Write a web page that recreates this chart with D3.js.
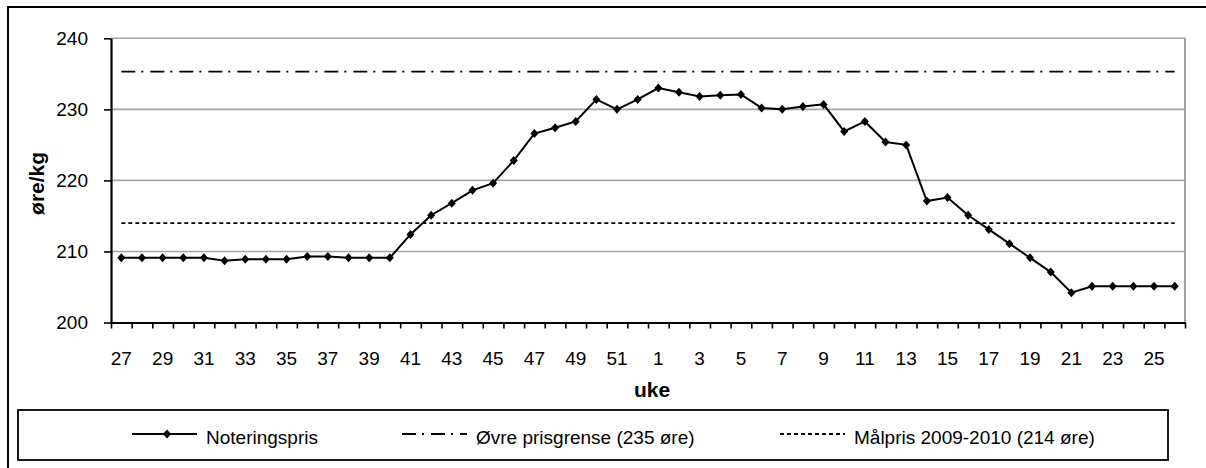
<!DOCTYPE html>
<html><head><meta charset="utf-8">
<script src="https://cdn.jsdelivr.net/npm/d3@7"></script>
<style>
body{margin:0;background:#fff}
svg{display:block}
text{font-family:"Liberation Sans",Arial,sans-serif;fill:#000}
</style>
</head><body>
<svg id="c" width="1206" height="468"></svg>
<script>
// ---- data ----
const weeks = [27,28,29,30,31,32,33,34,35,36,37,38,39,40,41,42,43,44,45,46,47,48,49,50,51,52,
               1,2,3,4,5,6,7,8,9,10,11,12,13,14,15,16,17,18,19,20,21,22,23,24,25,26];
const noteringspris = [209.1,209.1,209.1,209.1,209.1,208.7,208.9,208.9,208.9,209.3,209.3,209.1,209.1,209.1,
  212.4,215.1,216.8,218.6,219.6,222.8,226.6,227.4,228.3,231.4,230.0,231.4,
  233.0,232.4,231.8,232.0,232.1,230.2,230.0,230.4,230.7,226.9,228.3,225.4,225.0,
  217.1,217.6,215.1,213.1,211.1,209.1,207.1,204.2,205.1,205.1,205.1,205.1,205.1];
const ovrePrisgrense = weeks.map(() => 235.3);
const malpris = weeks.map(() => 214.0);
const yTicks = [200,210,220,230,240];
const xTickLabels = weeks.filter((w,i) => i % 2 === 0);
const seriesNames = ["Noteringspris", "Øvre prisgrense (235 øre)", "Målpris 2009-2010 (214 øre)"];
const yTitle = "øre/kg";
const xTitle = "uke";

// ---- layout ----
const W = 1206, H = 468;
const plot = {left:111, right:1185, top:38.3, bottom:322.5};
const FS = 19, FST = 21;

const svg = d3.select("#c");

// outer frame
svg.append("rect").attr("x",8).attr("y",7).attr("width",W).attr("height",H)
  .attr("fill","none").attr("stroke","#000").attr("stroke-width",2);

const x = d3.scaleBand().domain(weeks.map(String)).range([plot.left, plot.right]).padding(0);
const xb = d3.scaleLinear().domain([0, weeks.length]).range([plot.left, plot.right]);
const y = d3.scaleLinear().domain([200,240]).range([plot.bottom, plot.top]);

// gridlines
svg.append("g").selectAll("line").data(yTicks.slice(1)).join("line")
  .attr("x1",plot.left).attr("x2",plot.right)
  .attr("y1",d=>y(d)).attr("y2",d=>y(d))
  .attr("stroke","#a6a6a6").attr("stroke-width",1.6);
// right border
svg.append("line").attr("x1",plot.right).attr("x2",plot.right)
  .attr("y1",plot.top).attr("y2",plot.bottom)
  .attr("stroke","#8c8c8c").attr("stroke-width",1.6);

// y axis
const ya = svg.append("g").attr("transform",`translate(${plot.left},0)`)
  .call(d3.axisLeft(y).tickValues(yTicks).tickSizeInner(7).tickSizeOuter(0).tickPadding(16));
ya.select(".domain").attr("stroke-width",2.2);
ya.selectAll(".tick line").attr("stroke-width",1.6);
ya.selectAll("text").attr("font-size",FS).attr("font-family",null);

// x axis: tick marks at category boundaries
const xt = svg.append("g").attr("transform",`translate(0,${plot.bottom})`)
  .call(d3.axisBottom(xb).tickValues(d3.range(0, weeks.length+1)).tickSizeInner(6).tickSizeOuter(0).tickFormat(""));
xt.select(".domain").attr("stroke-width",2.2);
xt.selectAll(".tick line").attr("stroke-width",1.6);
// x labels
const xl = svg.append("g").attr("transform",`translate(0,${plot.bottom})`)
  .call(d3.axisBottom(x).tickValues(xTickLabels.map(String)).tickSize(0).tickPadding(29));
xl.select(".domain").remove();
xl.selectAll("text").attr("font-size",FS).attr("font-family",null);

// reference lines
const line = d3.line().x((d,i)=>x(String(weeks[i])) + x.bandwidth()/2).y(d=>y(d));
svg.append("path").datum(ovrePrisgrense).attr("d",line)
  .attr("fill","none").attr("stroke","#000").attr("stroke-width",1.8)
  .attr("stroke-dasharray","14,6,2,7");
svg.append("path").datum(malpris).attr("d",line)
  .attr("fill","none").attr("stroke","#000").attr("stroke-width",1.8)
  .attr("stroke-dasharray","4,3");

// main series
svg.append("path").datum(noteringspris).attr("d",line)
  .attr("fill","none").attr("stroke","#000").attr("stroke-width",2);
const diamond = "M0,-4.5L4,0L0,4.5L-4,0Z";
svg.append("g").selectAll("path").data(noteringspris).join("path")
  .attr("transform",(d,i)=>`translate(${x(String(weeks[i]))+x.bandwidth()/2},${y(d)})`)
  .attr("d",diamond).attr("fill","#000");

// axis titles
svg.append("text").attr("transform",`translate(37,${(plot.top+plot.bottom)/2 + 3}) rotate(-90)`)
  .attr("text-anchor","middle").attr("dy","0.35em").attr("font-weight","bold").attr("font-size",FST)
  .text(yTitle);
svg.append("text").attr("x",(plot.left+plot.right)/2 + 4).attr("y",390).attr("dy","0.35em")
  .attr("text-anchor","middle").attr("font-weight","bold").attr("font-size",FST).text(xTitle);

// legend
const lg = {left:18, right:1168, top:410, bottom:460};
svg.append("rect").attr("x",lg.left).attr("y",lg.top).attr("width",lg.right-lg.left).attr("height",lg.bottom-lg.top)
  .attr("fill","#fff").attr("stroke","#000").attr("stroke-width",1.8);
const itemX = [132, 402, 780];
const dashes = [null, "14,6,2,7", "4,3"];
const ly = 434;
seriesNames.forEach((name,i)=>{
  const g = svg.append("g").attr("transform",`translate(${itemX[i]},${ly})`);
  g.append("line").attr("x1",0).attr("x2",65).attr("y1",0).attr("y2",0)
    .attr("stroke","#000").attr("stroke-width", i===0?2:1.8)
    .attr("stroke-dasharray", dashes[i]);
  if(i===0) g.append("path").attr("transform","translate(35,0)").attr("d",diamond).attr("fill","#000");
  g.append("text").attr("x",74).attr("y",3).attr("dy","0.35em").attr("font-size",FS).text(name);
});
</script>
</body></html>
